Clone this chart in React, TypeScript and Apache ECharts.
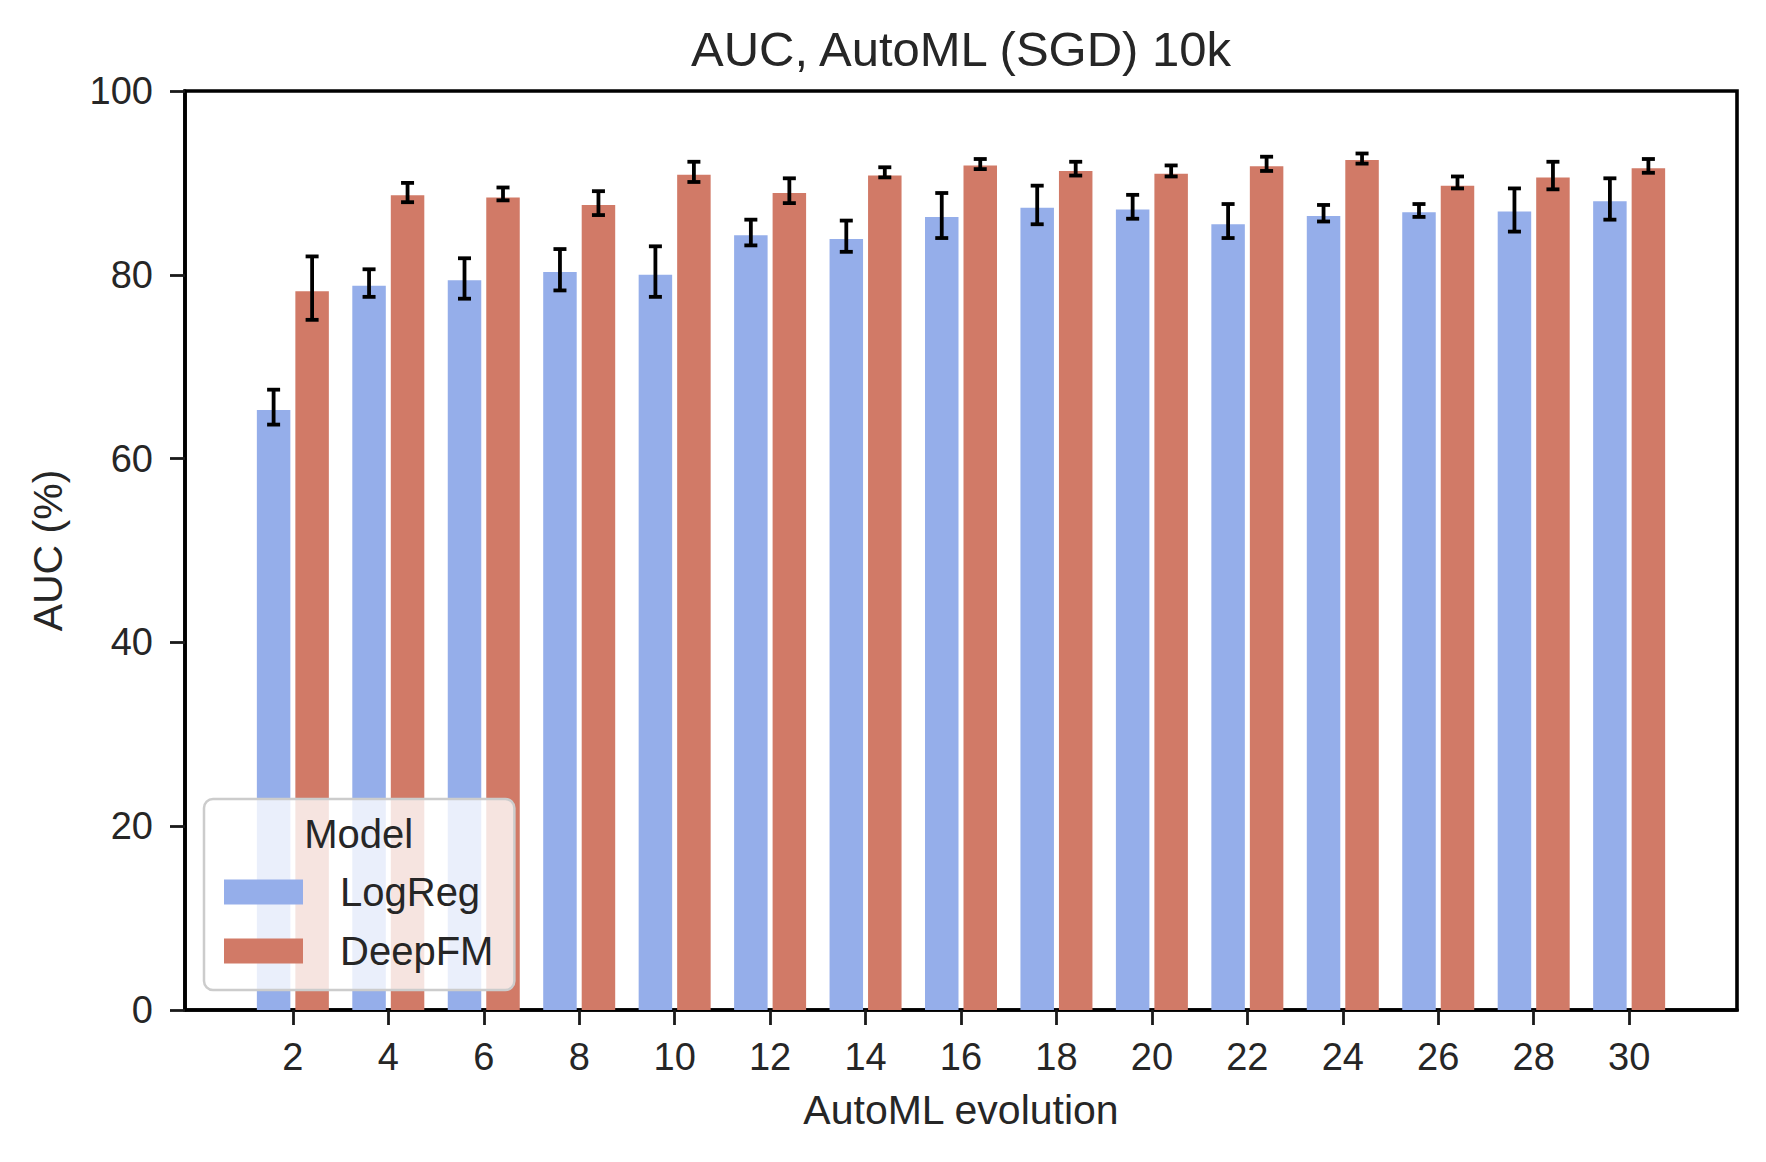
import React, { useEffect, useRef } from "react";
import * as echarts from "echarts";

// ---- data ----
const generations = [2, 4, 6, 8, 10, 12, 14, 16, 18, 20, 22, 24, 26, 28, 30];
const logRegAuc = [65.3, 78.8, 79.4, 80.3, 80.0, 84.3, 83.9, 86.3, 87.3, 87.1, 85.5, 86.4, 86.8, 86.9, 88.0];
const logRegLow = [63.7, 77.6, 77.4, 78.3, 77.6, 83.2, 82.5, 84.0, 85.5, 86.1, 84.0, 85.8, 86.3, 84.7, 86.0];
const logRegHigh = [67.5, 80.6, 81.8, 82.8, 83.1, 86.0, 85.9, 88.9, 89.7, 88.7, 87.7, 87.6, 87.7, 89.4, 90.5];
const deepFmAuc = [78.2, 88.65, 88.4, 87.6, 90.9, 88.9, 90.8, 91.9, 91.3, 91.0, 91.8, 92.5, 89.7, 90.6, 91.6];
const deepFmLow = [75.1, 87.9, 88.1, 86.5, 90.1, 87.8, 90.6, 91.5, 90.8, 90.7, 91.3, 92.1, 89.4, 89.3, 91.1];
const deepFmHigh = [82.0, 90.0, 89.5, 89.1, 92.3, 90.5, 91.7, 92.6, 92.3, 91.9, 92.85, 93.2, 90.7, 92.3, 92.6];
const yTicks = [0, 20, 40, 60, 80, 100];
const seriesNames = ["LogReg", "DeepFM"];

// ---- style ----
const FONT = "'Liberation Sans', Arial, Helvetica, sans-serif";
const TEXT = "#262626";
const BLUE = "#95aeea";
const RED = "#d17a67";
const BAR_W = 33.5;
const BAR_GAP = 5;
const OFFSET = (BAR_W + BAR_GAP) / 2;
const CAP = 6.5;
const ERR_W = 3.8;
const SPINE = 3.6;

function errorRenderer(sign: number) {
  return (params: any, api: any) => {
    const x = api.value(0);
    const lo = api.value(1);
    const hi = api.value(2);
    const pLo = api.coord([x, lo]);
    const pHi = api.coord([x, hi]);
    const cx = pLo[0] + sign * OFFSET;
    const style = { stroke: "#000", lineWidth: ERR_W, fill: null };
    return {
      type: "group",
      children: [
        { type: "line", shape: { x1: cx, y1: pLo[1], x2: cx, y2: pHi[1] }, style },
        { type: "line", shape: { x1: cx - CAP, y1: pHi[1], x2: cx + CAP, y2: pHi[1] }, style },
        { type: "line", shape: { x1: cx - CAP, y1: pLo[1], x2: cx + CAP, y2: pLo[1] }, style },
      ],
    };
  };
}

export default function App() {
  const ref = useRef<HTMLDivElement>(null);
  useEffect(() => {
    if (!ref.current) return;
    const chart = echarts.init(ref.current, undefined, { renderer: "svg" });
    const logRegData = generations.map((g, i) => [g, logRegAuc[i]]);
    const deepFmData = generations.map((g, i) => [g, deepFmAuc[i]]);
    const logRegErr = generations.map((g, i) => [g, logRegLow[i], logRegHigh[i]]);
    const deepFmErr = generations.map((g, i) => [g, deepFmLow[i], deepFmHigh[i]]);
    chart.setOption({
      animation: false,
      textStyle: { fontFamily: FONT, color: TEXT },
      title: {
        text: "AUC, AutoML (SGD) 10k",
        left: 961,
        top: 24,
        textAlign: "center",
        padding: 0,
        textStyle: { fontFamily: FONT, fontSize: 49, fontWeight: "normal", color: TEXT },
      },
      grid: {
        left: 185,
        top: 91,
        right: 29,
        bottom: 152,
        show: true,
        borderColor: "#000",
        borderWidth: SPINE,
        backgroundColor: "transparent",
      },
      xAxis: {
        type: "value",
        min: -0.26,
        max: 32.26,
        name: "AutoML evolution",
        nameLocation: "middle",
        nameGap: 79,
        nameTextStyle: { fontFamily: FONT, fontSize: 41, color: TEXT },
        splitLine: { show: false },
        axisLine: { show: true, onZero: false, lineStyle: { color: "#000", width: SPINE } },
        axisTick: {
          show: true,
          customValues: generations,
          length: 15,
          lineStyle: { color: "#1a1a1a", width: 2.8 },
        },
        axisLabel: {
          customValues: generations,
          fontFamily: FONT,
          fontSize: 38,
          color: TEXT,
          margin: 28,
        },
      },
      yAxis: {
        type: "value",
        min: 0,
        max: 100,
        interval: 20,
        name: "AUC (%)",
        nameLocation: "middle",
        nameGap: 117,
        nameTextStyle: { fontFamily: FONT, fontSize: 41, color: TEXT },
        splitLine: { show: false },
        axisLine: { show: true, onZero: false, lineStyle: { color: "#000", width: SPINE } },
        axisTick: { show: true, length: 15, lineStyle: { color: "#1a1a1a", width: 2.8 } },
        axisLabel: {
          customValues: yTicks,
          fontFamily: FONT,
          fontSize: 38,
          color: TEXT,
          margin: 32,
        },
      },
      legend: {
        data: seriesNames,
        orient: "vertical",
        left: 204,
        top: 799,
        padding: [73, 21, 19, 20],
        itemWidth: 79,
        itemHeight: 25,
        itemGap: 19,
        icon: "rect",
        backgroundColor: "rgba(255,255,255,0.8)",
        borderColor: "#cccccc",
        borderWidth: 2.5,
        borderRadius: 9,
        selectedMode: false,
        textStyle: { fontFamily: FONT, fontSize: 40, color: TEXT, padding: [0, 0, 0, 32] },
      },
      graphic: [
        {
          type: "text",
          x: 358.7,
          y: 834,
          z: 100,
          style: {
            text: "Model",
            fontFamily: FONT,
            fontSize: 40,
            fill: TEXT,
            textAlign: "center",
            textVerticalAlign: "middle",
          },
        },
      ],
      series: [
        {
          name: seriesNames[0],
          type: "bar",
          data: logRegData,
          barWidth: BAR_W,
          barGap: (BAR_GAP / BAR_W) * 100 + "%",
          itemStyle: { color: BLUE },
          silent: true,
        },
        {
          name: seriesNames[1],
          type: "bar",
          data: deepFmData,
          barWidth: BAR_W,
          barGap: (BAR_GAP / BAR_W) * 100 + "%",
          itemStyle: { color: RED },
          silent: true,
        },
        {
          name: "LogReg err",
          type: "custom",
          data: logRegErr,
          encode: { x: 0, y: [1, 2] },
          renderItem: errorRenderer(-1),
          silent: true,
          z: 3,
        },
        {
          name: "DeepFM err",
          type: "custom",
          data: deepFmErr,
          encode: { x: 0, y: [1, 2] },
          renderItem: errorRenderer(1),
          silent: true,
          z: 3,
        },
      ],
    });
    return () => chart.dispose();
  }, []);
  return (
    <div
      ref={ref}
      style={{ position: "absolute", left: 0, top: 0, width: 1766, height: 1162, background: "#fff" }}
    />
  );
}
